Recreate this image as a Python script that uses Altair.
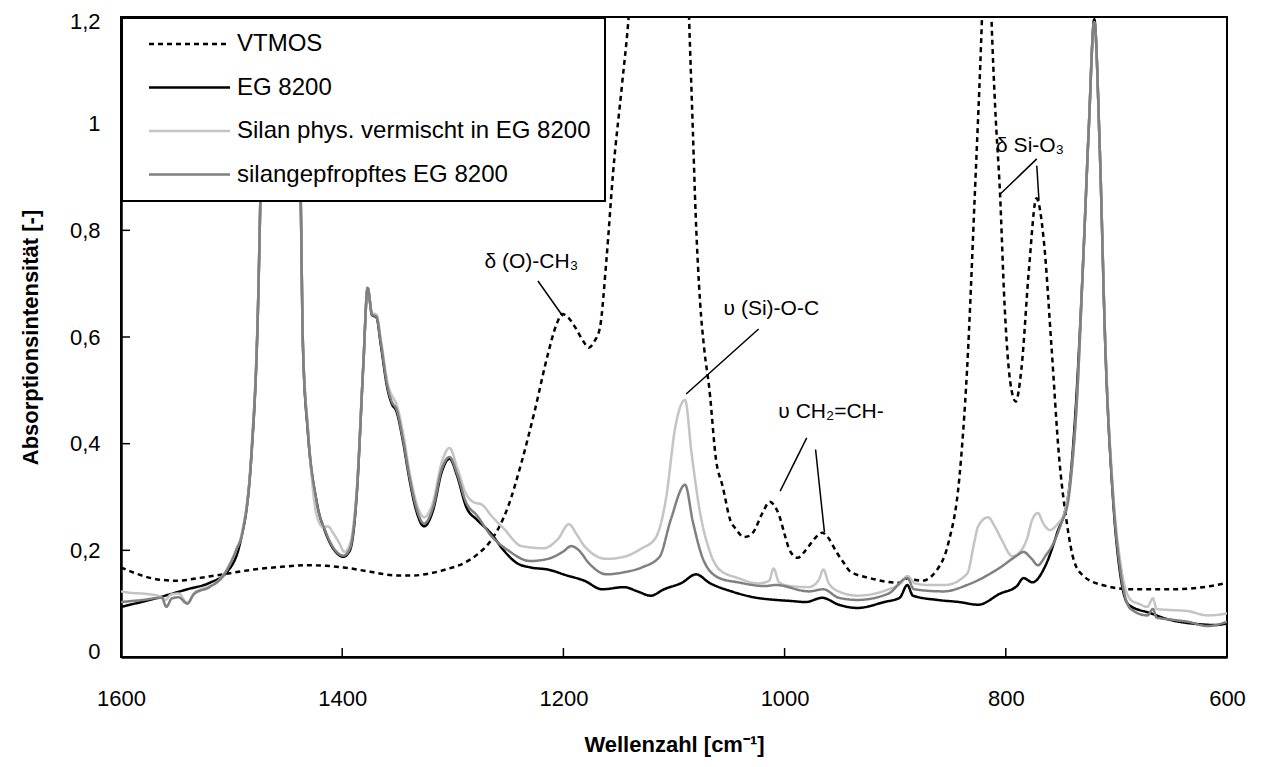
import altair as alt
import pandas as pd

# ---------------- data ----------------
series_names = ["VTMOS", "EG 8200", "Silan phys. vermischt in EG 8200", "silangepfropftes EG 8200"]
series_colors = ["#000000", "#000000", "#c4c4c4", "#808080"]
series_dash = [[5, 4], [1, 0], [1, 0], [1, 0]]

vtmos_x = [1600, 1580, 1565, 1548, 1530, 1508, 1480, 1455, 1431, 1415, 1399, 1375, 1351, 1335, 1318,
           1305, 1290, 1278, 1266, 1250, 1238, 1226, 1214, 1206, 1201, 1195, 1189, 1182, 1177, 1172,
           1167, 1161, 1155, 1147, 1141, 1130, 1115, 1095, 1086.4, 1083, 1080.4, 1076.4, 1072.8, 1068,
           1062, 1056, 1049, 1044, 1037, 1032, 1028.7, 1020, 1013.4, 1009, 1005, 1000, 996.4, 992, 988,
           983, 977.7, 972, 966, 960, 954, 947, 940.4, 923, 896, 889, 876, 862, 852, 842, 835, 828,
           821.5, 817, 813, 809.6, 805.2, 801.2, 796, 791, 785.9, 779, 772.3, 765.5, 758.7, 751.9, 745,
           738.3, 729.8, 712.8, 685.7, 651.7, 625, 600]
vtmos_y = [0.168, 0.152, 0.145, 0.143, 0.148, 0.155, 0.164, 0.169, 0.172, 0.171, 0.168, 0.160, 0.153, 0.153, 0.158,
           0.165, 0.176, 0.192, 0.217, 0.282, 0.364, 0.461, 0.568, 0.625, 0.643, 0.635, 0.617, 0.592, 0.580, 0.592,
           0.617, 0.747, 0.910, 1.073, 1.200, 1.600, 1.800, 1.800, 1.200, 0.990, 0.829, 0.665, 0.580, 0.502,
           0.370, 0.320, 0.256, 0.240, 0.225, 0.227, 0.233, 0.270, 0.291, 0.283, 0.266, 0.230, 0.205, 0.190, 0.186,
           0.195, 0.209, 0.224, 0.233, 0.222, 0.200, 0.178, 0.160, 0.148, 0.139, 0.147, 0.143, 0.164, 0.213, 0.336, 0.540, 0.868,
           1.200, 1.500, 1.200, 1.030, 0.868, 0.664, 0.516, 0.479, 0.540, 0.729, 0.860, 0.778, 0.582, 0.377, 0.254,
           0.180, 0.152, 0.135, 0.127, 0.127, 0.130, 0.139]

eg_x = [1600, 1580, 1560, 1540, 1520, 1504, 1492, 1482, 1476, 1474, 1469, 1462, 1441, 1437.5, 1435.5, 1431,
        1423, 1415, 1407, 1399, 1393, 1387, 1381, 1377, 1373, 1369, 1365, 1359, 1355, 1351, 1345, 1339, 1333,
        1326, 1318, 1310, 1303, 1296, 1288, 1278, 1266, 1254, 1242, 1230, 1214, 1197, 1181, 1165, 1145, 1133,
        1121, 1109, 1093, 1080, 1068, 1048, 1028, 1008, 994, 981, 966, 951, 934, 910, 896, 889, 884, 862, 842,
        825, 805, 790, 784, 776, 764, 754, 743, 737, 730, 725, 720, 715, 710, 703, 696, 689, 669, 652, 628, 610, 600]
eg_y = [0.094, 0.104, 0.115, 0.127, 0.139, 0.160, 0.217, 0.380, 0.666, 0.860, 1.500, 1.500, 1.200, 0.860, 0.584, 0.420,
        0.290, 0.233, 0.200, 0.188, 0.200, 0.300, 0.543, 0.692, 0.641, 0.637, 0.584, 0.502, 0.474, 0.461, 0.404, 0.331, 0.274,
        0.245, 0.274, 0.347, 0.372, 0.339, 0.282, 0.257, 0.233, 0.200, 0.176, 0.168, 0.164, 0.153, 0.143, 0.127, 0.131, 0.123,
        0.115, 0.127, 0.139, 0.155, 0.139, 0.123, 0.112, 0.107, 0.105, 0.103, 0.111, 0.098, 0.092, 0.103, 0.111, 0.135, 0.115, 0.107, 0.103,
        0.098, 0.119, 0.133, 0.148, 0.140, 0.172, 0.230, 0.311, 0.459, 0.745, 0.990, 1.196, 0.950, 0.582, 0.295, 0.148, 0.098, 0.082, 0.070, 0.062, 0.060, 0.063]

silan_x = [1600, 1590, 1581, 1565, 1560, 1555, 1548, 1540, 1534, 1528, 1520, 1512, 1504, 1496, 1490, 1482, 1476,
           1474, 1469, 1462, 1441, 1437.5, 1435.5, 1431, 1423, 1417, 1413, 1408, 1403, 1398, 1393, 1387, 1381, 1377,
           1373, 1369, 1365, 1359, 1355, 1351, 1345, 1339, 1333, 1326, 1318, 1310, 1303, 1296, 1288, 1281, 1274,
           1264, 1254, 1238, 1218, 1205, 1195, 1188, 1181, 1161, 1145, 1129, 1117, 1107, 1099, 1090, 1084, 1076,
           1068, 1059, 1042, 1024, 1014, 1010, 1005, 995, 978, 969, 965, 960, 950, 934, 906, 895, 889, 882, 870,
           855, 835, 828, 825, 816, 810, 804, 794, 786, 781, 776, 771, 766, 760, 753, 747, 743, 740, 736, 730, 725,
           720, 715, 710, 703, 696, 687, 680, 672, 667, 663.6, 650, 635, 618, 605, 600]
silan_y = [0.123, 0.120, 0.119, 0.114, 0.107, 0.117, 0.119, 0.102, 0.120, 0.127, 0.133, 0.143, 0.165, 0.200, 0.240, 0.385, 0.670,
           0.860, 1.500, 1.500, 1.200, 0.860, 0.590, 0.430, 0.265, 0.243, 0.245, 0.232, 0.215, 0.197, 0.212, 0.310, 0.545, 0.692,
           0.645, 0.642, 0.595, 0.515, 0.490, 0.475, 0.420, 0.345, 0.290, 0.262, 0.290, 0.365, 0.392, 0.355, 0.306, 0.290, 0.286,
           0.262, 0.241, 0.208, 0.204, 0.221, 0.249, 0.230, 0.208, 0.184, 0.188, 0.204, 0.222, 0.300, 0.429, 0.482, 0.380, 0.266,
           0.200, 0.164, 0.148, 0.138, 0.143, 0.166, 0.140, 0.133, 0.131, 0.145, 0.164, 0.138, 0.122, 0.115, 0.127, 0.138, 0.152, 0.138, 0.135,
           0.135, 0.156, 0.220, 0.245, 0.262, 0.245, 0.221, 0.189, 0.200, 0.221, 0.258, 0.270, 0.250, 0.238, 0.250, 0.270, 0.310, 0.360, 0.470, 0.745, 0.990,
           1.190, 0.950, 0.590, 0.310, 0.172, 0.107, 0.100, 0.094, 0.110, 0.090, 0.088, 0.086, 0.078, 0.080, 0.082]

graft_x = [1600, 1590, 1580, 1570, 1563, 1559, 1554, 1548, 1540, 1534, 1520, 1508, 1496, 1490, 1482, 1476, 1474,
           1469, 1462, 1441, 1437.5, 1435.5, 1431, 1423, 1415, 1407, 1399, 1393, 1387, 1381, 1377, 1373, 1369, 1365,
           1359, 1355, 1351, 1345, 1339, 1333, 1326, 1318, 1310, 1303, 1296, 1288, 1278, 1266, 1250, 1230, 1214,
           1200, 1193, 1186, 1177, 1161, 1145, 1129, 1113, 1103, 1090, 1083, 1073, 1059, 1042, 1018, 1008, 978, 965,
           951, 934, 906, 889, 883, 856, 835, 805, 790, 784, 777, 771, 764, 757, 750, 743, 740, 736, 730, 725, 720,
           715, 710, 703, 696, 687, 672, 667, 663.6, 650, 635, 618, 600]
graft_y = [0.103, 0.105, 0.107, 0.110, 0.111, 0.094, 0.110, 0.112, 0.100, 0.118, 0.131, 0.151, 0.200, 0.235, 0.385, 0.668, 0.860,
           1.500, 1.500, 1.200, 0.860, 0.586, 0.425, 0.290, 0.235, 0.202, 0.190, 0.203, 0.303, 0.545, 0.692, 0.642, 0.638, 0.588,
           0.506, 0.478, 0.465, 0.408, 0.336, 0.280, 0.250, 0.280, 0.352, 0.375, 0.343, 0.290, 0.265, 0.229, 0.200, 0.180, 0.184,
           0.198, 0.208, 0.200, 0.176, 0.155, 0.159, 0.168, 0.188, 0.257, 0.323, 0.254, 0.180, 0.148, 0.140, 0.133, 0.135, 0.123, 0.127,
           0.111, 0.107, 0.119, 0.148, 0.127, 0.123, 0.135, 0.168, 0.190, 0.197, 0.185, 0.172, 0.190, 0.213, 0.250, 0.300, 0.360, 0.470, 0.745, 0.990, 1.190,
           0.950, 0.580, 0.300, 0.156, 0.090, 0.078, 0.090, 0.074, 0.070, 0.066, 0.058, 0.066]

x_ticks = [1600, 1400, 1200, 1000, 800, 600]
y_ticks = [0, 0.2, 0.4, 0.6, 0.8, 1.0, 1.2]

ann_labels = ["δ (O)-CH₃", "υ (Si)-O-C", "υ CH₂=CH-", "δ Si-O₃"]
ann_x = [1229, 1012, 958, 778]
ann_y = [0.740, 0.652, 0.459, 0.959]

lead_x = [1223, 1023.5, 980, 972, 772, 772]
lead_y = [0.705, 0.615, 0.411, 0.389, 0.934, 0.921]
lead_x2 = [1200.5, 1089, 1004, 964, 805, 770]
lead_y2 = [0.639, 0.493, 0.311, 0.234, 0.868, 0.856]

# ---------------- build tables ----------------
frames = []
for name, xs, ys in zip(series_names, [vtmos_x, eg_x, silan_x, graft_x], [vtmos_y, eg_y, silan_y, graft_y]):
    frames.append(pd.DataFrame({"wn": xs, "a": ys, "series": name}))
df = pd.concat(frames, ignore_index=True)

ann_df = pd.DataFrame({"wn": ann_x, "a": ann_y, "label": ann_labels})
lead_df = pd.DataFrame({"wn": lead_x, "a": lead_y, "wn2": lead_x2, "a2": lead_y2})
xt_df = pd.DataFrame({"wn": x_ticks[1:-1]})
yt_df = pd.DataFrame({"a": y_ticks[1:-1]})

W, H = 1106, 640
FONT = "Liberation Sans"

x_scale = alt.Scale(domain=[600, 1600], reverse=True, nice=False, zero=False)
y_scale = alt.Scale(domain=[0, 1.2], nice=False, zero=False)

x_enc = alt.X("wn:Q", scale=x_scale,
              axis=alt.Axis(values=x_ticks, format="d", ticks=False, tickSize=0, grid=False,
                            labelFlush=False, labelOverlap=False, labelPadding=31,
                            labelFontSize=22, labelFont=FONT, labelColor="black",
                            domainColor="black", domainWidth=2.5,
                            title="Wellenzahl [cm⁻¹]", titleFont=FONT, titleFontSize=22,
                            titleFontWeight="bold", titleColor="black", titlePadding=25))
y_enc = alt.Y("a:Q", scale=y_scale,
              axis=alt.Axis(values=y_ticks, labelExpr="replace(format(datum.value, '.1~f'), '.', ',')",
                            ticks=False, tickSize=0, grid=False, labelFlush=True, labelFlushOffset=6,
                            labelOverlap=False,
                            labelPadding=21, labelFontSize=22, labelFont=FONT, labelColor="black",
                            domainColor="black", domainWidth=2.5,
                            title="Absorptionsintensität [-]", titleFont=FONT, titleFontSize=22,
                            titleFontWeight="bold", titleColor="black", titlePadding=27))

SYM = "M0.25,0H20.5"
leg = alt.Legend(title=None, symbolType=SYM)
color_enc = alt.Color("series:N", scale=alt.Scale(domain=series_names, range=series_colors), legend=leg)
dash_enc = alt.StrokeDash("series:N", scale=alt.Scale(domain=series_names, range=series_dash), legend=leg)

base = alt.Chart(df)
layers = []
for name in series_names:
    layers.append(
        base.transform_filter(alt.datum.series == name)
        .mark_line(clip=True, strokeWidth=2.5, interpolate="monotone")
        .encode(x=x_enc, y=y_enc, color=color_enc, strokeDash=dash_enc)
    )

xticks_layer = alt.Chart(xt_df).mark_rule(color="black", strokeWidth=1.5).encode(
    x=alt.X("wn:Q", scale=x_scale), y=alt.value(H), y2=alt.value(H - 9))
yticks_layer = alt.Chart(yt_df).mark_rule(color="black", strokeWidth=1.5).encode(
    y=alt.Y("a:Q", scale=y_scale), x=alt.value(0), x2=alt.value(9))

lead_layer = alt.Chart(lead_df).mark_rule(color="black", strokeWidth=1.5).encode(
    x=alt.X("wn:Q", scale=x_scale), y=alt.Y("a:Q", scale=y_scale),
    x2=alt.X2("wn2"), y2=alt.Y2("a2"))
ann_layer = alt.Chart(ann_df).mark_text(font=FONT, fontSize=21, color="black", align="center",
                                        baseline="middle").encode(
    x=alt.X("wn:Q", scale=x_scale), y=alt.Y("a:Q", scale=y_scale), text="label:N")

chart = alt.layer(*layers, xticks_layer, yticks_layer, lead_layer, ann_layer).properties(
    width=W, height=H,
    autosize=alt.AutoSizeParams(type="none"),
    padding={"left": 113, "top": 9, "right": 30, "bottom": 102},
    background="white",
).configure_view(
    stroke="black", strokeWidth=2
).configure_legend(
    orient="none", legendX=1, legendY=1,
    fillColor="white", strokeColor="black", strokeWidth=2,
    padding=14, rowPadding=19.5, labelOffset=77,
    labelFont=FONT, labelFontSize=24, labelColor="black", labelLimit=700,
    symbolSize=64, symbolStrokeWidth=2.5,
)

chart.save("out.html", embed_options={"renderer": "svg", "actions": False})
